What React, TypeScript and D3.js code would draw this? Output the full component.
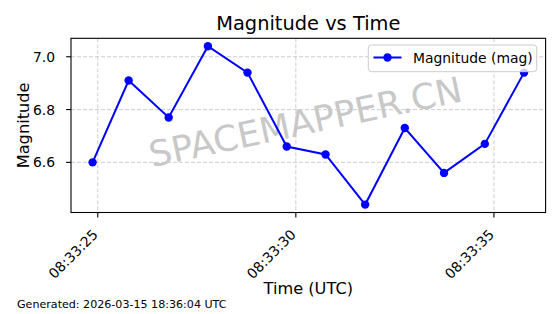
import React from "react";
import * as d3 from "d3";

const times = [
  "08:33:24.87", "08:33:25.78", "08:33:26.79", "08:33:27.78", "08:33:28.78", "08:33:29.77",
  "08:33:30.75", "08:33:31.75", "08:33:32.75", "08:33:33.74", "08:33:34.77", "08:33:35.76",
];
const magnitudes = [6.6, 6.91, 6.77, 7.04, 6.94, 6.66, 6.63, 6.44, 6.73, 6.56, 6.67, 6.94];
const yTicks = [6.6, 6.8, 7.0];
const xTickTimes = ["08:33:25", "08:33:30", "08:33:35"];

const title = "Magnitude vs Time";
const xLabel = "Time (UTC)";
const yLabel = "Magnitude";
const seriesName = "Magnitude (mag)";
const footer = "Generated: 2026-03-15 18:36:04 UTC";
const watermark = "SPACEMAPPER.CN";

const W = 560;
const H = 314;
const M = { left: 71, right: 545.6, top: 38.3, bottom: 212.5 };
const FONT = "DejaVu Sans, sans-serif";
const BLUE = "#0000ff";

const parseT = (s: string) => new Date(`2026-03-15T${s}Z`);

export default function App() {
  const data = times.map((t, i) => ({ t: parseT(t), v: magnitudes[i] }));
  const [tMin, tMax] = d3.extent(data, (d) => +d.t) as [number, number];
  const tPad = (tMax - tMin) * 0.05;
  const [vMin, vMax] = d3.extent(data, (d) => d.v) as [number, number];
  const vPad = (vMax - vMin) * 0.05;

  const x = d3.scaleUtc().domain([new Date(tMin - tPad), new Date(tMax + tPad)]).range([M.left, M.right]);
  const y = d3.scaleLinear().domain([vMin - vPad, vMax + vPad]).range([M.bottom, M.top]);

  const line = d3.line<{ t: Date; v: number }>().x((d) => x(d.t)).y((d) => y(d.v));
  const fmtX = d3.utcFormat("%H:%M:%S");
  const xTicks = xTickTimes.map(parseT);
  const cx = (M.left + M.right) / 2;

  return (
    <svg width={W} height={H} style={{ position: "absolute", left: 0, top: 0, background: "#fff" }} fontFamily={FONT}>
      <rect x={0} y={0} width={W} height={H} fill="#fff" />
      {/* grid */}
      <g stroke="#c8c8c8" strokeWidth={0.9} strokeDasharray="4,2">
        {xTicks.map((t, i) => (
          <line key={"gx" + i} x1={x(t)} x2={x(t)} y1={M.top} y2={M.bottom} />
        ))}
        {yTicks.map((v, i) => (
          <line key={"gy" + i} x1={M.left} x2={M.right} y1={y(v)} y2={y(v)} />
        ))}
      </g>
      {/* watermark */}
      <text
        x={308}
        y={134}
        textAnchor="middle"
        fontSize={35.5}
        fill="#c8c8c8"
        transform={`rotate(-12, 308, 134)`}
      >
        {watermark}
      </text>
      {/* series */}
      <path d={line(data) || ""} fill="none" stroke={BLUE} strokeWidth={2} />
      {data.map((d, i) => (
        <circle key={i} cx={x(d.t)} cy={y(d.v)} r={4.2} fill={BLUE} />
      ))}
      {/* axes frame */}
      <rect x={M.left} y={M.top} width={M.right - M.left} height={M.bottom - M.top} fill="none" stroke="#000" strokeWidth={1.1} />
      {/* x ticks */}
      {xTicks.map((t, i) => (
        <g key={"xt" + i}>
          <line x1={x(t)} x2={x(t)} y1={M.bottom} y2={M.bottom + 4.9} stroke="#000" strokeWidth={1.1} />
          <text
            x={x(t) + 1}
            y={235.5}
            fontSize={13.9}
            textAnchor="end"
            fill="#000"
            transform={`rotate(-45, ${x(t) + 1}, 235.5)`}
          >
            {fmtX(t)}
          </text>
        </g>
      ))}
      {/* y ticks */}
      {yTicks.map((v, i) => (
        <g key={"yt" + i}>
          <line x1={M.left - 4.9} x2={M.left} y1={y(v)} y2={y(v)} stroke="#000" strokeWidth={1.1} />
          <text x={M.left - 16} y={y(v)} dy="0.36em" fontSize={13.9} textAnchor="end" fill="#000">
            {d3.format(".1f")(v)}
          </text>
        </g>
      ))}
      {/* labels */}
      <text x={cx} y={30} fontSize={19.4} textAnchor="middle" fill="#000">
        {title}
      </text>
      <text x={cx} y={294} fontSize={16.2} textAnchor="middle" fill="#000">
        {xLabel}
      </text>
      <text
        x={29}
        y={(M.top + M.bottom) / 2}
        fontSize={16.2}
        textAnchor="middle"
        fill="#000"
        transform={`rotate(-90, 29, ${(M.top + M.bottom) / 2})`}
      >
        {yLabel}
      </text>
      {/* legend */}
      <g>
        <rect x={368.3} y={45} width={168.4} height={26.7} rx={3} fill="#fff" fillOpacity={0.8} stroke="#cccccc" strokeWidth={1} />
        <line x1={373.5} x2={401.5} y1={57.5} y2={57.5} stroke={BLUE} strokeWidth={2} />
        <circle cx={387.5} cy={57.5} r={4.2} fill={BLUE} />
        <text x={413} y={62.5} fontSize={13.9} fill="#000">
          {seriesName}
        </text>
      </g>
      {/* footer */}
      <text x={17} y={308.3} fontSize={11.1} fill="#000">
        {footer}
      </text>
    </svg>
  );
}
